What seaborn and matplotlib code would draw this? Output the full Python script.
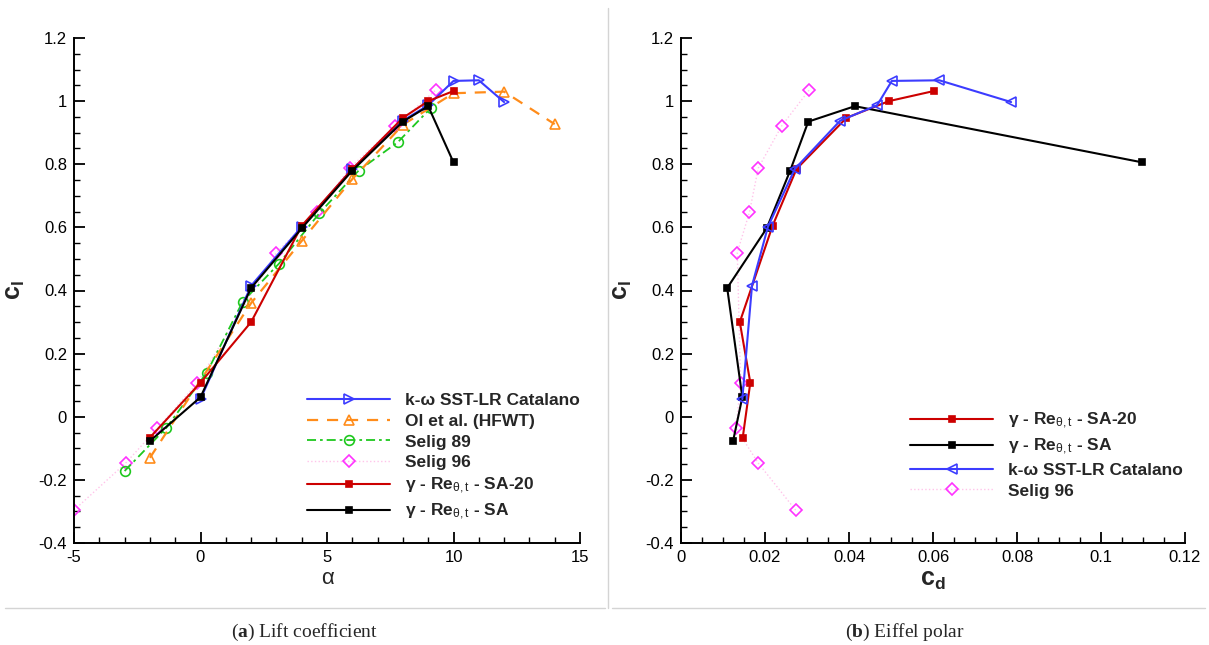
import numpy as np
import pandas as pd
import matplotlib
matplotlib.use("Agg")
import matplotlib.pyplot as plt
import seaborn as sns
from matplotlib.lines import Line2D
from matplotlib.ticker import MultipleLocator

# ---------------- data ----------------
alpha_cat = [0, 2, 4, 6, 8, 9, 10, 11, 12]
cl_cat = [0.056, 0.415, 0.602, 0.785, 0.938, 0.987, 1.064, 1.066, 0.997]
cd_cat = [0.0146, 0.0169, 0.0207, 0.0271, 0.0379, 0.0467, 0.0502, 0.0615, 0.0786]

alpha_ol = [-2, 2, 4, 6, 8, 10, 12, 14]
cl_ol = [-0.13, 0.36, 0.557, 0.753, 0.925, 1.025, 1.03, 0.927]

alpha_s89 = [-3, -1.35, 0.25, 1.67, 3.1, 4.7, 6.25, 7.8, 9.1]
cl_s89 = [-0.172, -0.035, 0.14, 0.365, 0.485, 0.645, 0.78, 0.87, 0.978]

alpha_s96 = [-5, -2.96, -1.7, -0.13, 3, 4.6, 5.9, 7.7, 9.3]
cl_s96 = [-0.296, -0.147, -0.036, 0.106, 0.52, 0.648, 0.788, 0.922, 1.035]
cd_s96 = [0.0273, 0.0184, 0.0131, 0.0142, 0.0134, 0.0163, 0.0184, 0.0240, 0.0305]

alpha_sa20 = [-2, 0, 2, 4, 6, 8, 9, 10]
cl_sa20 = [-0.066, 0.108, 0.30, 0.605, 0.785, 0.947, 1.0, 1.032]
cd_sa20 = [0.0147, 0.0165, 0.0140, 0.0218, 0.0275, 0.0394, 0.0495, 0.0602]

alpha_sa = [-2, 0, 2, 4, 6, 8, 9, 10]
cl_sa = [-0.077, 0.062, 0.408, 0.597, 0.78, 0.935, 0.984, 0.806]
cd_sa = [0.0124, 0.0146, 0.0110, 0.0204, 0.0260, 0.0303, 0.0414, 0.1098]

lab_cat = "k-ω SST-LR Catalano"
lab_ol = "Ol et al. (HFWT)"
lab_s89 = "Selig 89"
lab_s96 = "Selig 96"
lab_sa20 = r"γ - Re$_{\mathrm{\theta,t}}$ - SA-20"
lab_sa = r"γ - Re$_{\mathrm{\theta,t}}$ - SA"

# ---------------- style ----------------
sns.set_style("white")
plt.rcParams["font.family"] = ["Liberation Sans", "DejaVu Sans"]
plt.rcParams["axes.unicode_minus"] = False
plt.rcParams["mathtext.fontset"] = "custom"
plt.rcParams["mathtext.rm"] = "Liberation Sans"
plt.rcParams["mathtext.it"] = "Liberation Sans:italic"
plt.rcParams["mathtext.bf"] = "Liberation Sans:bold"
plt.rcParams["mathtext.sf"] = "Liberation Serif:bold"

C_BLUE = "#3c3cff"
C_ORANGE = "#ff8c1a"
C_GREEN = "#1ec81e"
C_MAG = "#ff33ff"
C_PINK = "#ffc4ea"
C_RED = "#cc0000"
C_BLACK = "#000000"

W, H = 1209, 645
fig = plt.figure(figsize=(W / 100, H / 100), dpi=100)


def fbox(x0, y0, x1, y1):
    return [x0 / W, 1 - y1 / H, (x1 - x0) / W, (y1 - y0) / H]


axL = fig.add_axes(fbox(74, 38, 580, 543))
axR = fig.add_axes(fbox(681, 38, 1185, 543))


def series(ax, x, y, color, marker, label, ls="-", lw=1.4, ms=6, mfc=None,
           mec=None, zorder=3, lcolor=None, mew=1.2):
    df = pd.DataFrame({"x": x, "y": y})
    sns.lineplot(data=df, x="x", y="y", sort=False, estimator=None, ax=ax,
                 color=lcolor or color, linestyle=ls, linewidth=lw,
                 marker=marker, markersize=ms,
                 markerfacecolor=mfc if mfc is not None else color,
                 markeredgecolor=mec or color, markeredgewidth=mew,
                 label=label, zorder=zorder)


dashdot = (0, (5, 2.2, 1.5, 2.2))
SQ = 4.8

# ---- left: lift coefficient ----
series(axL, alpha_s96, cl_s96, C_MAG, "D", lab_s96, ls=":", lw=1.0, ms=5.8,
       mfc="none", lcolor=C_PINK, zorder=2)
series(axL, alpha_s89, cl_s89, C_GREEN, "o", lab_s89, ls=dashdot, lw=1.3,
       ms=7, mfc="none", zorder=2)
series(axL, alpha_ol, cl_ol, C_ORANGE, "^", lab_ol, ls=(0, (5, 4)), lw=1.6,
       ms=7, mfc="none", zorder=2)
series(axL, alpha_cat, cl_cat, C_BLUE, ">", lab_cat, lw=1.5, ms=7,
       mfc="none", zorder=3)
series(axL, alpha_sa20, cl_sa20, C_RED, "s", lab_sa20, lw=1.5, ms=SQ,
       zorder=4)
series(axL, alpha_sa, cl_sa, C_BLACK, "s", lab_sa, lw=1.5, ms=SQ, zorder=5)

# ---- right: Eiffel polar ----
series(axR, cd_s96, cl_s96, C_MAG, "D", lab_s96, ls=":", lw=1.0, ms=5.8,
       mfc="none", lcolor=C_PINK, zorder=2)
series(axR, cd_sa20, cl_sa20, C_RED, "s", lab_sa20, lw=1.5, ms=SQ, zorder=3)
series(axR, cd_sa, cl_sa, C_BLACK, "s", lab_sa, lw=1.5, ms=SQ, zorder=4)
series(axR, cd_cat, cl_cat, C_BLUE, "<", lab_cat, lw=1.5, ms=7,
       mfc="none", zorder=5)

# ---- axes formatting ----
for ax in (axL, axR):
    ax.set_ylim(-0.4, 1.2)
    yt = np.round(np.arange(-0.4, 1.21, 0.2), 1)
    ax.set_yticks(yt)
    ax.set_yticklabels(["0" if abs(v) < 1e-9 else f"{v:g}" for v in yt])
    ax.yaxis.set_minor_locator(MultipleLocator(0.05))
    for s in ("top", "right"):
        ax.spines[s].set_visible(False)
    for s in ("left", "bottom"):
        ax.spines[s].set_color("black")
        ax.spines[s].set_linewidth(1.4)
    ax.tick_params(which="major", direction="in", length=8, width=1.3,
                   labelsize=12, colors="black", pad=5)
    ax.tick_params(which="minor", direction="in", length=4, width=1.0,
                   colors="black")
    ax.tick_params(axis="both", which="both", bottom=True, left=True,
                   top=False, right=False)
    ax.set_ylabel(r"$\mathbf{c_l}$", fontsize=18, labelpad=8)
    ax.grid(False)

axL.set_xlim(-5, 15)
axL.set_xticks([-5, 0, 5, 10, 15])
axL.xaxis.set_minor_locator(MultipleLocator(1))
axL.set_xlabel("α", fontsize=16, labelpad=2)

axR.set_xlim(0, 0.12)
xt = [0, 0.02, 0.04, 0.06, 0.08, 0.1, 0.12]
axR.set_xticks(xt)
axR.set_xticklabels(["0", "0.02", "0.04", "0.06", "0.08", "0.1", "0.12"])
axR.xaxis.set_minor_locator(MultipleLocator(0.005))
axR.set_xlabel(r"$\mathbf{c_d}$", fontsize=18, labelpad=2)


# ---- legends ----
def make_legend(ax, order, anchor):
    h, l = ax.get_legend_handles_labels()
    d = dict(zip(l, h))
    leg = ax.legend([d[k] for k in order], order, loc="upper left",
                    bbox_to_anchor=anchor, frameon=False, borderpad=0,
                    borderaxespad=0, handlelength=4.8, handletextpad=0.85,
                    labelspacing=0.32, numpoints=1,
                    prop={"weight": "bold", "size": 12.5})
    return leg


make_legend(axL, [lab_cat, lab_ol, lab_s89, lab_s96, lab_sa20, lab_sa],
            ((307 - 74) / 506, (543 - 393) / 505))
make_legend(axR, [lab_sa20, lab_sa, lab_cat, lab_s96],
            ((910 - 681) / 504, (543 - 411) / 505))

# ---- separators ----
gray = "#d4d4d4"
fig.add_artist(Line2D([608 / W, 608 / W], [1 - 8 / H, 1 - 608 / H],
                      color=gray, lw=1.0, transform=fig.transFigure))
fig.add_artist(Line2D([5 / W, 605 / W], [1 - 608 / H, 1 - 608 / H],
                      color=gray, lw=1.0, transform=fig.transFigure))
fig.add_artist(Line2D([612 / W, 1205 / W], [1 - 608 / H, 1 - 608 / H],
                      color=gray, lw=1.0, transform=fig.transFigure))

# ---- captions ----
fig.text(305 / W, 1 - 632 / H, r"($\mathsf{a}$) Lift coefficient",
         ha="center", va="center", fontsize=14, family="Liberation Serif")
fig.text(905 / W, 1 - 632 / H, r"($\mathsf{b}$) Eiffel polar",
         ha="center", va="center", fontsize=14, family="Liberation Serif")

fig.savefig("out.png", dpi=100)
